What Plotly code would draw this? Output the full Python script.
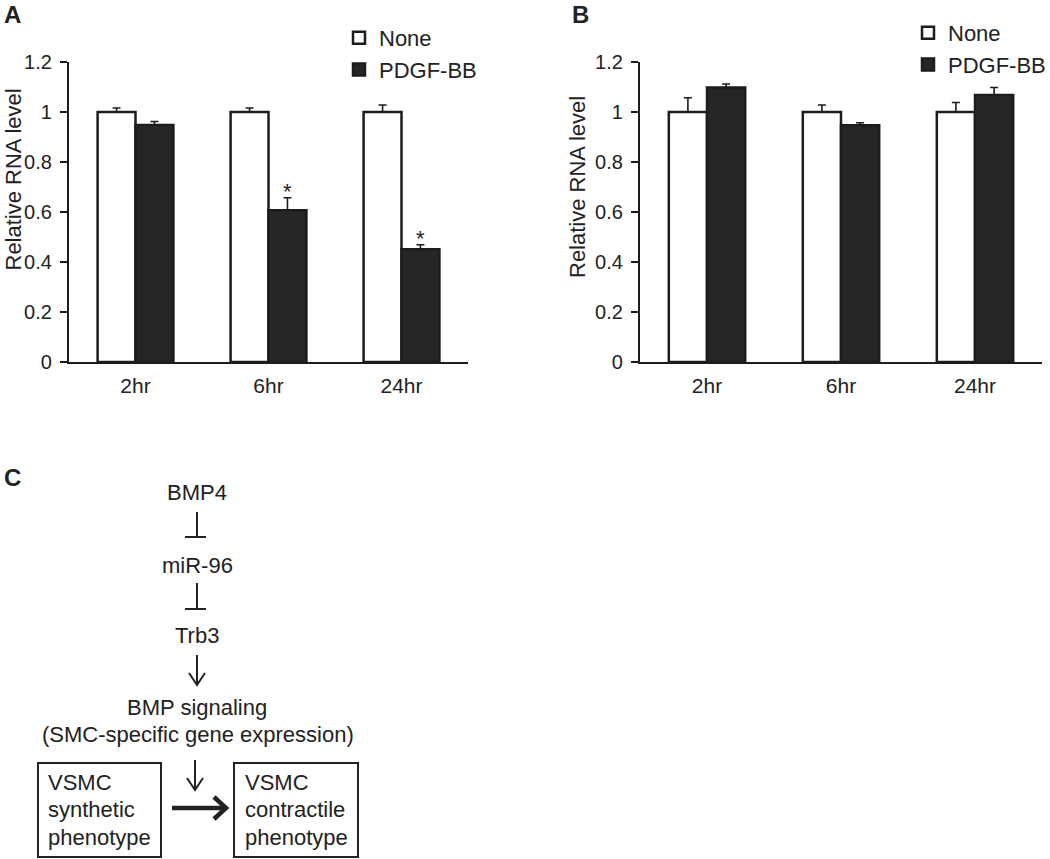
import plotly.graph_objects as go

W, H = 1050, 859

# ---------------- data ----------------
categories = ["2hr", "6hr", "24hr"]
series_names = ["None", "PDGF-BB"]

a_none = [1.0, 1.0, 1.0]
a_none_err = [0.016, 0.016, 0.028]
a_pdgf = [0.948, 0.607, 0.451]
a_pdgf_err = [0.014, 0.050, 0.018]
a_sig = ["", "*", "*"]

b_none = [1.0, 1.0, 1.0]
b_none_err = [0.057, 0.028, 0.038]
b_pdgf = [1.098, 0.947, 1.068]
b_pdgf_err = [0.014, 0.010, 0.030]

yticks = [0, 0.2, 0.4, 0.6, 0.8, 1.0, 1.2]
ytick_labels = ["0", "0.2", "0.4", "0.6", "0.8", "1", "1.2"]

# ---------------- style ----------------
FONT = "Liberation Sans, Arial, Helvetica, sans-serif"
EDGE = "#1c1c1c"
DARK = "#262626"
TXT = "#222222"
BARGAP = 0.43


def px(x):
    return x / W


def py(y):
    return 1 - y / H


def bar(name, y, err, fill, xa, ya, legend):
    return go.Bar(
        x=categories, y=y, name=name, xaxis=xa, yaxis=ya, legend=legend,
        marker=dict(color=fill, line=dict(color=EDGE, width=2.5)),
        error_y=dict(type="data", array=err, arrayminus=[0] * len(err),
                     symmetric=False, color=EDGE, thickness=1.6, width=4),
        hoverinfo="skip",
    )


fig = go.Figure()
fig.add_trace(bar(series_names[0], a_none, a_none_err, "white", "x", "y", "legend"))
fig.add_trace(bar(series_names[1], a_pdgf, a_pdgf_err, DARK, "x", "y", "legend"))
fig.add_trace(bar(series_names[0], b_none, b_none_err, "white", "x2", "y2", "legend2"))
fig.add_trace(bar(series_names[1], b_pdgf, b_pdgf_err, DARK, "x2", "y2", "legend2"))

ydom = [py(362), py(62)]


def xaxis(dom, anchor):
    return dict(domain=dom, anchor=anchor, type="category", categoryorder="array",
                categoryarray=categories, range=[-0.5, 2.5], automargin=False,
                showline=True, linewidth=2.2, linecolor=EDGE, ticks="",
                showgrid=False, zeroline=False, ticklabelstandoff=4,
                tickfont=dict(size=21, color=TXT, family=FONT))


def yaxis(anchor):
    return dict(domain=ydom, anchor=anchor, range=[0, 1.2], automargin=False,
                tickvals=yticks, ticktext=ytick_labels,
                showline=True, linewidth=2.2, linecolor=EDGE,
                ticks="outside", ticklen=7, tickwidth=2, tickcolor=EDGE,
                showgrid=False, zeroline=False, ticklabelstandoff=4,
                tickfont=dict(size=20, color=TXT, family=FONT))


annotations = []
# significance stars above PDGF-BB bars in panel A
off = (1 - BARGAP) / 4
for i, s in enumerate(a_sig):
    if s:
        annotations.append(dict(x=i + off, y=a_pdgf[i] + a_pdgf_err[i], xref="x", yref="y",
                                text=s, showarrow=False, yanchor="bottom", yshift=-8,
                                font=dict(size=22, color=TXT, family=FONT)))

# y axis titles
for xc, yc in [(12.5, 180), (577, 187)]:
    annotations.append(dict(x=px(xc), y=py(yc), xref="paper", yref="paper",
                            text="Relative RNA level", textangle=-90, showarrow=False,
                            xanchor="center", yanchor="middle",
                            font=dict(size=22, color=TXT, family=FONT)))

# panel letters
for lab, xc, yc in [("A", 12, 14), ("B", 580, 14), ("C", 12, 478)]:
    annotations.append(dict(x=px(xc), y=py(yc), xref="paper", yref="paper",
                            text="<b>%s</b>" % lab, showarrow=False,
                            xanchor="center", yanchor="middle",
                            font=dict(size=24, color=TXT, family=FONT)))


# ---------------- diagram C ----------------
def label(text, xc, yc, anchor="center"):
    annotations.append(dict(x=px(xc), y=py(yc), xref="paper", yref="paper",
                            text=text, showarrow=False, xanchor=anchor, yanchor="middle",
                            font=dict(size=22, color=TXT, family=FONT)))


label("BMP4", 197, 492)
label("miR-96", 197, 565)
label("Trb3", 197, 635)
label("BMP signaling", 197, 707)
label("(SMC-specific gene expression)", 198, 734)
for i, t in enumerate(["VSMC", "synthetic", "phenotype"]):
    label(t, 46, 782 + i * 27.5, "left")
for i, t in enumerate(["VSMC", "contractile", "phenotype"]):
    label(t, 243, 782 + i * 27.5, "left")

shapes = []


def line(x0, y0, x1, y1, w=2):
    shapes.append(dict(type="line", xref="paper", yref="paper",
                       x0=px(x0), y0=py(y0), x1=px(x1), y1=py(y1),
                       line=dict(color=TXT, width=w)))


def path(pts, w=2):
    d = "M " + " L ".join("%f,%f" % (px(a), py(b)) for a, b in pts)
    shapes.append(dict(type="path", xref="paper", yref="paper", path=d,
                       line=dict(color=TXT, width=w)))


# inhibition symbols
for y0, y1 in [(512, 537), (583, 609)]:
    line(197, y0, 197, y1)
    line(185, y1, 206, y1)
# thin down arrows
for xc, y0, y1 in [(197, 655, 685), (195, 760, 790)]:
    line(xc, y0, xc, y1)
    path([(xc - 8, y1 - 12), (xc, y1), (xc + 8, y1 - 12)])
# boxes
for x0, x1 in [(38, 161), (234, 358)]:
    shapes.append(dict(type="rect", xref="paper", yref="paper",
                       x0=px(x0), x1=px(x1), y0=py(857), y1=py(763),
                       line=dict(color=TXT, width=2)))
# thick arrow
line(172, 808, 225, 808, w=4.5)
path([(214, 797), (226, 808), (214, 819)], w=4.5)

fig.update_layout(
    width=W, height=H,
    margin=dict(l=0, r=0, t=0, b=0, pad=0, autoexpand=False),
    paper_bgcolor="white", plot_bgcolor="white",
    font=dict(family=FONT, color=TXT),
    barmode="group", bargap=BARGAP, bargroupgap=0,
    xaxis=xaxis([px(69), px(468)], "y"),
    yaxis=yaxis("x"),
    xaxis2=xaxis([px(640), px(1042)], "y2"),
    yaxis2=yaxis("x2"),
    legend=dict(x=px(339), y=py(17), xanchor="left", yanchor="top",
                font=dict(size=22, color=TXT, family=FONT),
                bgcolor="rgba(0,0,0,0)", itemclick=False, itemdoubleclick=False),
    legend2=dict(x=px(908), y=py(12), xanchor="left", yanchor="top",
                 font=dict(size=22, color=TXT, family=FONT),
                 bgcolor="rgba(0,0,0,0)", itemclick=False, itemdoubleclick=False),
    annotations=annotations,
    shapes=shapes,
    showlegend=True,
)

fig.write_html("out.html", config={"displayModeBar": False},
               post_script="document.body.style.margin='0';document.body.style.overflow='hidden';")
